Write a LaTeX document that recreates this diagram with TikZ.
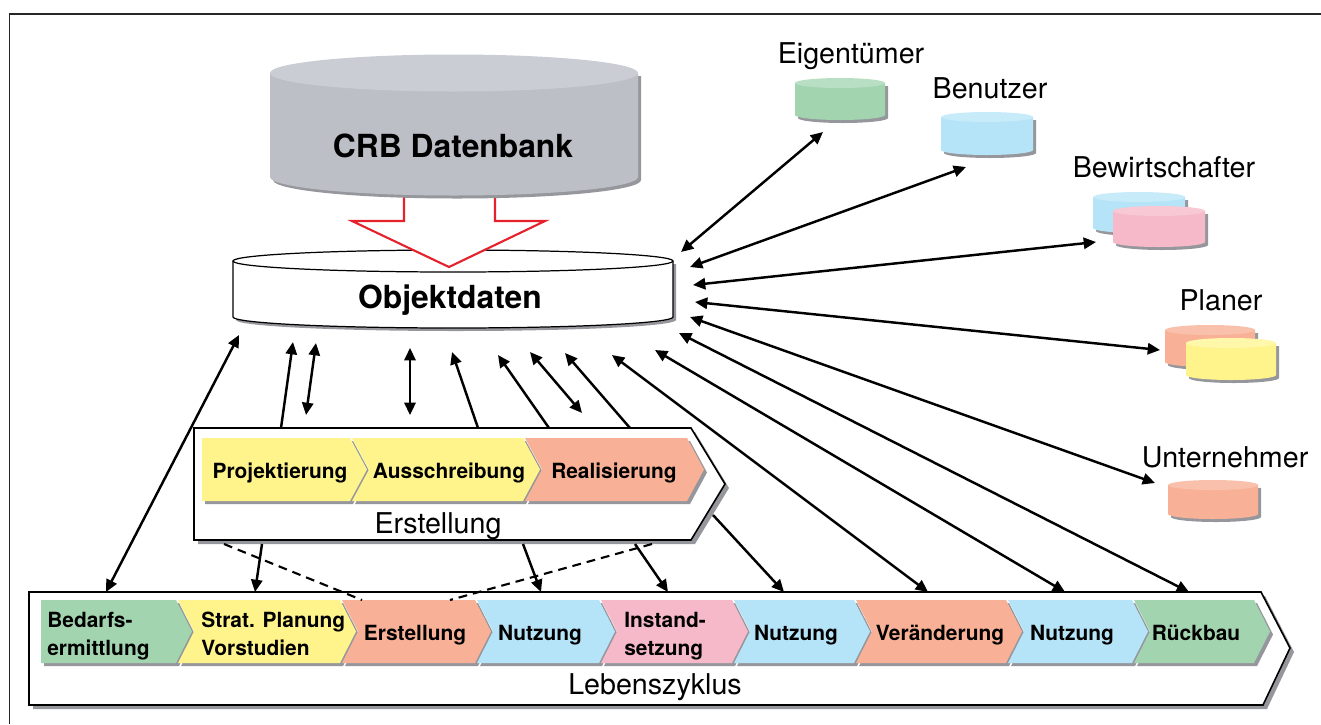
\documentclass[tikz,border=0pt]{standalone}
\usepackage{fontspec}
\setmainfont{TeX Gyre Heros}
\usetikzlibrary{arrows.meta}

\definecolor{cgreen}{HTML}{A2D4B0}
\definecolor{cgreenT}{HTML}{B8DFC4}
\definecolor{cblue}{HTML}{B5E3F7}
\definecolor{cblueT}{HTML}{C8EBFA}
\definecolor{cpink}{HTML}{F6B9C9}
\definecolor{cpinkT}{HTML}{F8C8D5}
\definecolor{csalmon}{HTML}{F8B196}
\definecolor{csalmonT}{HTML}{F9C1AB}
\definecolor{cyellow}{HTML}{FFF48C}
\definecolor{cyellowT}{HTML}{FFF7AA}
\definecolor{cgrey}{HTML}{BDBFC7}
\definecolor{cgreyT}{HTML}{CACDD4}
\definecolor{cshadow}{HTML}{96979C}
\definecolor{cred}{HTML}{E5222C}

% cylinder: centre x, x radius, top y, bottom y, y radius, body, lid
\newcommand{\dbcyl}[7]{%
  \fill[cshadow] ({#1-#2+3},{#3+3}) -- ({#1-#2+3},{#4+3})
    arc[start angle=180,end angle=0,x radius=#2,y radius=#5] -- ({#1+#2+3},{#3+3}) -- cycle;
  \fill[#6] ({#1-#2},#3) -- ({#1-#2},#4)
    arc[start angle=180,end angle=0,x radius=#2,y radius=#5] -- ({#1+#2},#3) -- cycle;
  \fill[#7] (#1,#3) ellipse[x radius=#2,y radius=#5];
}

\begin{document}
\begin{tikzpicture}[x=0.02cm, y=-0.02cm,
  every node/.style={inner sep=0pt},
  lbl/.style={font=\fontsize{16.3}{19}\selectfont, anchor=base},
  title/.style={font=\bfseries\fontsize{18.1}{21}\selectfont, anchor=base},
  phase/.style={font=\bfseries\fontsize{11.9}{15.9}\selectfont, anchor=base},
  phasel/.style={phase, align=left, anchor=base west},
  both/.style={{Triangle[length=7pt,width=6.4pt]}-{Triangle[length=7pt,width=6.4pt]}, line width=1.4pt},
  link/.style={-{Triangle[length=7pt,width=6.4pt]}, line width=1.4pt},
  hint/.style={line width=1.2pt, dash pattern=on 5pt off 3.4pt},
  frame/.style={fill=white, draw=black, line width=0.9pt}]
\useasboundingbox (0,0) rectangle (1321,724);

% outer frame
\draw[line width=1.1pt, black!85] (9.5,724) -- (9.5,14) -- (1321,14);

% Objektdaten
\fill[cshadow] (236,264) -- (236,320) arc[start angle=180,end angle=0,x radius=220,y radius=11] -- (676,264) -- cycle;
\draw[fill=white, line width=0.7pt] (233,261) -- (233,317) arc[start angle=180,end angle=0,x radius=220,y radius=11] -- (673,261);
\draw[fill=white, line width=0.7pt] (453,261) ellipse[x radius=220,y radius=11];
\node[title] (obj) at (450,308) {Objektdaten};

% transfer arrow
\draw[cred, fill=white, line width=1.2pt] (404,193) -- (404,221) -- (352,221) -- (449,267) -- (545,221) -- (495,221) -- (495,193);

% CRB Datenbank
\dbcyl{454}{184}{73}{177}{18.5}{cgrey}{cgreyT}
\node[title] (crb) at (453,157) {CRB Datenbank};

% stakeholders
\dbcyl{840}{45}{83}{115}{5}{cgreen}{cgreenT}
\dbcyl{987}{46}{117}{150}{5}{cblue}{cblueT}
\dbcyl{1139}{46}{197}{228}{5}{cblue}{cblueT}
\dbcyl{1159}{46}{211}{242}{5}{cpink}{cpinkT}
\dbcyl{1210}{45}{330}{362}{5}{csalmon}{csalmonT}
\dbcyl{1231}{45}{343}{375}{5}{cyellow}{cyellowT}
\dbcyl{1213}{45}{485}{514}{5}{csalmon}{csalmonT}
\node[lbl] (eig) at (851,63) {Eigentümer};
\node[lbl] (ben) at (990,98) {Benutzer};
\node[lbl] (bew) at (1164,177) {Bewirtschafter};
\node[lbl] (pla) at (1221,310) {Planer};
\node[lbl] (unt) at (1225,467) {Unternehmer};

% Erstellung
\fill[cshadow] (198,432) -- (695,432) -- (729,488) -- (695,544) -- (198,544) -- cycle;
\draw[frame] (194,428) -- (691,428) -- (725,484) -- (691,540) -- (194,540) -- cycle;
\foreach \a/\b/\c/\n in {202/350/cyellow/0, 352/523/cyellow/17, 525/687/csalmon/17}{
  \fill[cshadow] (\a+3,441) -- (\b+3,441) -- (\b+20,472.5) -- (\b+3,504) -- (\a+3,504) -- (\a+\n+3,472.5) -- cycle;
  \fill[\c] (\a,438) -- (\b,438) -- (\b+17,469.5) -- (\b,501) -- (\a,501) -- (\a+\n,469.5) -- cycle;
}
\node[phase] (proj) at (280,478) {Projektierung};
\node[phase] (aus) at (449,478) {Ausschreibung};
\node[phase] (real) at (614,478) {Realisierung};
\node[lbl] (ers) at (438,533) {Erstellung};

% Lebenszyklus
\fill[cshadow] (33,596) -- (1265,596) -- (1294,652) -- (1267,709) -- (33,709) -- cycle;
\draw[frame] (29,592) -- (1261,592) -- (1290,648) -- (1263,705) -- (29,705) -- cycle;
\foreach \a/\b/\c/\n in {41/176/cgreen/0, 178/340/cyellow/16, 342/475/csalmon/16,
    477/599/cblue/16, 601/732/cpink/16, 734/854/cblue/16, 856/1006/csalmon/16,
    1008/1132/cblue/16, 1134/1254/cgreen/16}{
  \fill[cshadow] (\a+3,603) -- (\b+3,603) -- (\b+19,634.5) -- (\b+3,666) -- (\a+3,666) -- (\a+\n+3,634.5) -- cycle;
  \fill[\c] (\a,600) -- (\b,600) -- (\b+16,631.5) -- (\b,663) -- (\a,663) -- (\a+\n,631.5) -- cycle;
}
\node[phasel] (bed) at (47,655) {Bedarfs-\\ermittlung};
\node[phasel] (strat) at (201,655) {Strat. Planung\\Vorstudien};
\node[phase] (erst) at (415,640) {Erstellung};
\node[phase] (nutz1) at (540,640) {Nutzung};
\node[phasel] (inst) at (624,655) {Instand-\\setzung};
\node[phase] (nutz2) at (796,640) {Nutzung};
\node[phase] (ver) at (940,640) {Veränderung};
\node[phase] (nutz3) at (1072,640) {Nutzung};
\node[phase] (rueck) at (1196,640) {Rückbau};
\node[lbl] (leb) at (655,694) {Lebenszyklus};

% connector ends
\foreach \n/\x/\y in {o1/681/252, o2/690/267, o3/693/285, o4/695/302, o5/690/317,
    o6/679/333, o7/655/350, o8/612/355, o9/239/335,
    s1/823/132, s2/966/167, s3/1096/242, s4/1160/350, s5/1155/483,
    l1/106/592, l2/255/592, l3/541/592, l4/668/592, l5/784/592, l6/928/592, l7/1065/592, l8/1189/592,
    e1/281/428, e2/478/428, e3/549/428, e4/630/428,
    t1/293/342, t2/452/352, t3/498/355, t4/565/353,
    f1/316/343, g1/306/415, f2/410/348, g2/410/415, f3/530/352, g3/582/413,
    b1/262/544, b2/523/544, b3/635/544, b4/713/515,
    d1/224/544, h1/362/600, d2/652/544, h2/450/600}
  \coordinate (\n) at (\x,\y);

% connectors
\foreach \i/\j in {o1/s1, o2/s2, o3/s3, o4/s4, o5/s5, o6/l8, o7/l7, o8/l6, o9/l1, f1/g1, f2/g2, f3/g3}
  \draw[both] (\i) -- (\j);
\foreach \i/\j in {e1/t1, e2/t2, e3/t3, e4/t4, b1/l2, b2/l3, b3/l4, b4/l5}
  \draw[link] (\i) -- (\j);
\draw[hint] (d1) -- (h1);
\draw[hint] (d2) -- (h2);
\end{tikzpicture}
\end{document}
